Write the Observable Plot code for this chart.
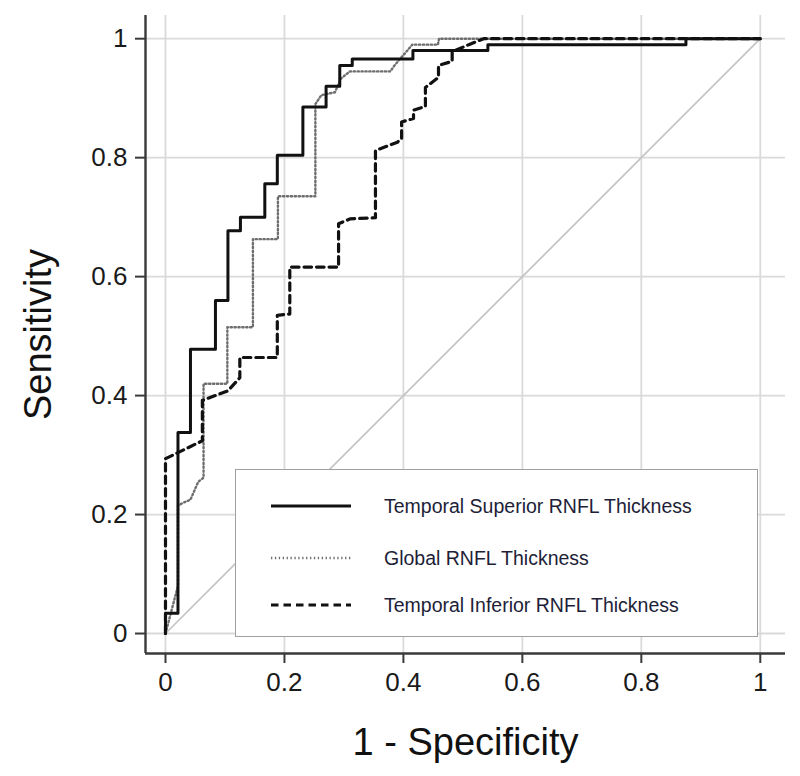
<!DOCTYPE html>
<html>
<head>
<meta charset="utf-8">
<script src="https://cdn.jsdelivr.net/npm/d3@7"></script>
<script src="https://cdn.jsdelivr.net/npm/@observablehq/plot@0.6"></script>
<style>
  body { margin: 0; background: #fff; }
  #wrap { position: relative; width: 800px; height: 776px; }
  #legend { position: absolute; left: 235px; top: 469px; width: 523px; height: 168px;
    border: 1.8px solid #a0a0a0; background: #fff; box-sizing: border-box;
    font-family: "Liberation Sans", Arial, sans-serif; }
  .row { position: absolute; left: 0; height: 30px; display: flex; align-items: center; }
  .row svg { margin-left: 34px; }
  .row span { margin-left: 32px; font-size: 19.5px; color: #211e38; white-space: nowrap; }
</style>
</head>
<body>
<div id="wrap"><div id="legend"></div></div>
<script>
// ---- data ----
const tickValues = [0, 0.2, 0.4, 0.6, 0.8, 1];
const tickLabels = ["0", "0.2", "0.4", "0.6", "0.8", "1"];
const seriesNames = ["Temporal Superior RNFL Thickness", "Global RNFL Thickness", "Temporal Inferior RNFL Thickness"];

// Temporal Superior RNFL Thickness (solid)
const supFpr = [0, 0, 0.021, 0.021, 0.042, 0.042, 0.084, 0.084, 0.105, 0.105, 0.126, 0.126, 0.167, 0.167, 0.188, 0.188, 0.231, 0.231, 0.27, 0.27, 0.293, 0.293, 0.314, 0.314, 0.416, 0.416, 0.542, 0.542, 0.875, 0.875, 1];
const supTpr = [0, 0.034, 0.034, 0.338, 0.338, 0.478, 0.478, 0.56, 0.56, 0.677, 0.677, 0.70, 0.70, 0.756, 0.756, 0.804, 0.804, 0.885, 0.885, 0.92, 0.92, 0.955, 0.955, 0.966, 0.966, 0.98, 0.98, 0.99, 0.99, 1, 1];

// Global RNFL Thickness (dotted)
const gloFpr = [0, 0.021, 0.021, 0.03, 0.042, 0.055, 0.064, 0.064, 0.104, 0.104, 0.147, 0.147, 0.189, 0.189, 0.252, 0.252, 0.262, 0.285, 0.295, 0.31, 0.378, 0.385, 0.415, 0.458, 0.46, 1];
const gloTpr = [0, 0.08, 0.215, 0.22, 0.225, 0.255, 0.262, 0.42, 0.42, 0.515, 0.515, 0.663, 0.663, 0.735, 0.735, 0.89, 0.905, 0.91, 0.933, 0.945, 0.945, 0.955, 0.99, 0.99, 1, 1];

// Temporal Inferior RNFL Thickness (dashed)
const infFpr = [0, 0, 0.062, 0.062, 0.105, 0.125, 0.125, 0.188, 0.188, 0.209, 0.209, 0.291, 0.291, 0.31, 0.353, 0.353, 0.39, 0.397, 0.397, 0.417, 0.417, 0.437, 0.437, 0.459, 0.459, 0.482, 0.482, 0.51, 0.535, 1];
const infTpr = [0, 0.294, 0.324, 0.392, 0.408, 0.43, 0.464, 0.464, 0.535, 0.537, 0.616, 0.616, 0.689, 0.697, 0.699, 0.812, 0.826, 0.832, 0.86, 0.866, 0.88, 0.886, 0.918, 0.935, 0.955, 0.962, 0.978, 0.99, 1, 1];

// reference diagonal
const diagFpr = [0, 1];
const diagTpr = [0, 1];

// ---- styles ----
const xDomain = [-0.0336, 1.0424];
const yDomain = [-0.0336, 1.039];
const styles = [
  {stroke: "#111", strokeWidth: 3, dash: null},
  {stroke: "#6e6e6e", strokeWidth: 2.4, dash: "1.3,2.6"},
  {stroke: "#111", strokeWidth: 3.2, dash: "7.5,5"}
];

const toRows = (xs, ys) => xs.map((x, i) => ({x, y: ys[i]}));
const sup = toRows(supFpr, supTpr);
const glo = toRows(gloFpr, gloTpr);
const inf = toRows(infFpr, infTpr);
const diag = toRows(diagFpr, diagTpr);

const fmt = d => tickLabels[tickValues.indexOf(d)];
const axisColor = "#3a3a3a";

const chart = Plot.plot({
  width: 800,
  height: 776,
  marginLeft: 145,
  marginRight: 15,
  marginTop: 15,
  marginBottom: 123,
  style: {fontFamily: "'Liberation Sans', Arial, sans-serif", background: "#fff", color: "#222"},
  x: {domain: xDomain},
  y: {domain: yDomain},
  marks: [
    Plot.gridX(tickValues, {stroke: "#dadada", strokeOpacity: 1, strokeWidth: 1.8}),
    Plot.gridY(tickValues, {stroke: "#dadada", strokeOpacity: 1, strokeWidth: 1.8}),
    Plot.line(diag, {x: "x", y: "y", stroke: "#c4c4c4", strokeWidth: 1.7}),
    Plot.line(glo, {x: "x", y: "y", stroke: styles[1].stroke, strokeWidth: styles[1].strokeWidth, strokeDasharray: styles[1].dash}),
    Plot.line(sup, {x: "x", y: "y", stroke: styles[0].stroke, strokeWidth: styles[0].strokeWidth}),
    Plot.line(inf, {x: "x", y: "y", stroke: styles[2].stroke, strokeWidth: styles[2].strokeWidth, strokeDasharray: styles[2].dash}),
    Plot.ruleX([xDomain[0]], {stroke: axisColor, strokeWidth: 2.4}),
    Plot.ruleY([yDomain[0]], {stroke: axisColor, strokeWidth: 2.4}),
    Plot.axisX(tickValues, {tickSize: 10, tickPadding: 9, fontSize: 26, tickFormat: fmt, label: null, stroke: axisColor, strokeWidth: 2, fill: "#1a1a1a"}),
    Plot.axisY(tickValues, {tickSize: 10, tickPadding: 8, fontSize: 26, tickFormat: fmt, label: null, stroke: axisColor, strokeWidth: 2, fill: "#1a1a1a"}),
    Plot.text(["1 - Specificity"], {frameAnchor: "bottom", dy: 89, fontSize: 38, lineAnchor: "middle", textAnchor: "middle", fill: "#111"}),
    Plot.text(["Sensitivity"], {frameAnchor: "left", dx: -107, rotate: -90, fontSize: 38, lineAnchor: "middle", textAnchor: "middle", fill: "#111"})
  ]
});
document.getElementById("wrap").prepend(chart);

// ---- legend ----
const legend = document.getElementById("legend");
const rowCenters = [36, 88, 135];
seriesNames.forEach((name, i) => {
  const row = document.createElement("div");
  row.className = "row";
  row.style.top = (rowCenters[i] - 15) + "px";
  const s = styles[i];
  row.innerHTML = `<svg width="82" height="10"><line x1="1" y1="5" x2="81" y2="5" stroke="${s.stroke}" stroke-width="${s.strokeWidth}" ${s.dash ? `stroke-dasharray="${s.dash}"` : ""}/></svg><span>${name}</span>`;
  legend.appendChild(row);
});
</script>
</body>
</html>
